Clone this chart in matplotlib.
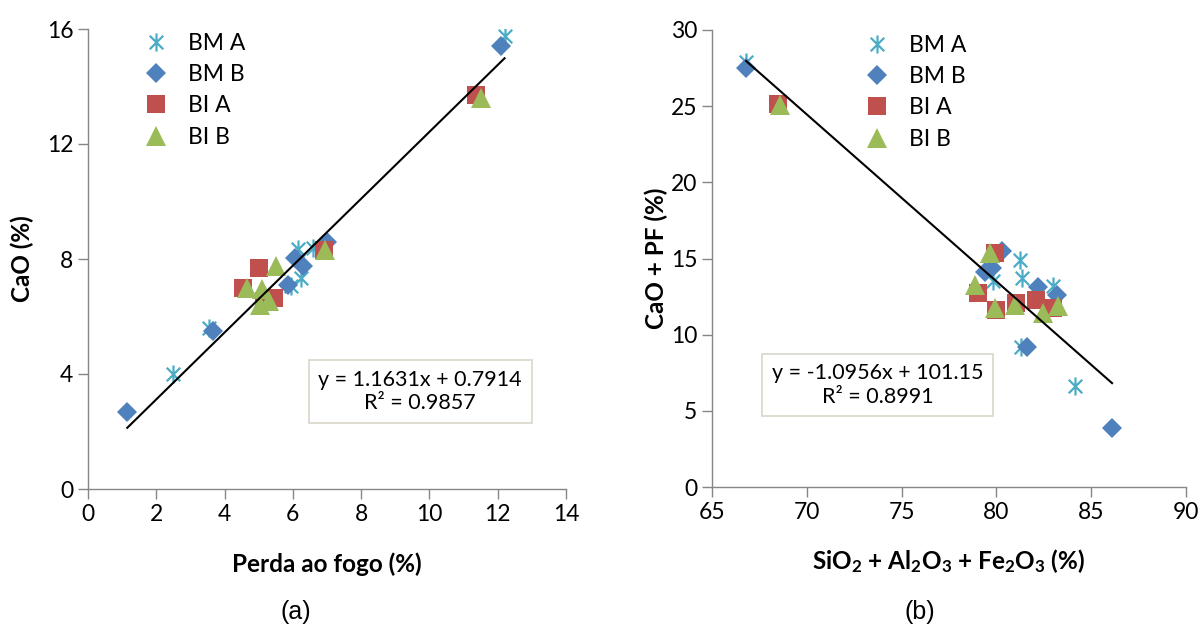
import matplotlib
matplotlib.use("Agg")
import matplotlib.pyplot as plt
import numpy as np
from matplotlib.path import Path

# ---------------- data (a) ----------------
a_bma_x = [12.2, 2.5, 3.55, 5.95, 6.25, 6.15, 6.6]
a_bma_y = [15.75, 4.0, 5.6, 7.05, 7.35, 8.35, 8.4]
a_bmb_x = [12.1, 1.15, 3.65, 6.05, 6.3, 5.85, 7.0]
a_bmb_y = [15.4, 2.68, 5.5, 8.03, 7.75, 7.1, 8.6]
a_bia_x = [11.35, 5.0, 4.55, 5.45, 5.15, 6.9]
a_bia_y = [13.7, 7.7, 7.0, 6.65, 6.55, 8.3]
a_bib_x = [11.5, 5.5, 4.65, 5.1, 5.05, 5.3, 6.95]
a_bib_y = [13.6, 7.75, 7.0, 6.95, 6.4, 6.55, 8.3]
a_slope, a_icpt = 1.1631, 0.7914

# ---------------- data (b) ----------------
b_bma_x = [66.8, 84.15, 81.3, 81.25, 81.35, 83.0, 79.8]
b_bma_y = [27.9, 6.6, 9.2, 14.9, 13.7, 13.2, 13.5]
b_bmb_x = [66.8, 86.1, 81.6, 80.3, 79.4, 82.2, 83.2, 79.75]
b_bmb_y = [27.5, 3.85, 9.2, 15.5, 14.1, 13.1, 12.6, 14.4]
b_bia_x = [68.5, 79.95, 79.05, 80.0, 81.05, 82.1, 83.0]
b_bia_y = [25.15, 15.35, 12.75, 11.6, 12.05, 12.3, 11.75]
b_bib_x = [68.6, 79.65, 78.85, 79.95, 81.0, 82.45, 83.25]
b_bib_y = [25.1, 15.35, 13.25, 11.75, 11.95, 11.4, 11.85]
b_slope, b_icpt = -1.0956, 101.15

series_names = ["BM A", "BM B", "BI A", "BI B"]

# ---------------- style ----------------
FONT = "Lato"
plt.rcParams["font.family"] = [FONT, "DejaVu Sans"]
plt.rcParams["mathtext.fontset"] = "custom"
plt.rcParams["mathtext.rm"] = FONT + ":bold"
plt.rcParams["mathtext.bf"] = FONT + ":bold"
plt.rcParams["mathtext.it"] = FONT + ":bold"

C_BMA = "#4bacc6"
C_BMB = "#4f81bd"
C_BIA = "#c0504d"
C_BIB = "#9bbb59"
AXC = "#868686"
TICK_FS = 16.5
LAB_FS = 17.5
LEG_FS = 16.5
ANN_FS = 15.5

star_path = Path(
    [(0, -1), (0, 1), (-0.75, -0.75), (0.75, 0.75), (-0.75, 0.75), (0.75, -0.75)],
    [Path.MOVETO, Path.LINETO, Path.MOVETO, Path.LINETO, Path.MOVETO, Path.LINETO],
)

fig = plt.figure(figsize=(12.02, 6.30), dpi=100)
ax1 = fig.add_axes([88 / 1202, 1 - 489 / 630, (566 - 88) / 1202, (489 - 29) / 630])
ax2 = fig.add_axes([712 / 1202, 1 - 487 / 630, (1186 - 712) / 1202, (487 - 30) / 630])

styles = [
    dict(marker=star_path, color=C_BMA, markersize=13, markeredgewidth=1.6, markerfacecolor="none"),
    dict(marker="D", color=C_BMB, markersize=10.5, markeredgewidth=0),
    dict(marker="s", color=C_BIA, markersize=13.5, markeredgewidth=0),
    dict(marker="^", color=C_BIB, markersize=15, markeredgewidth=0),
]


def draw(ax, data, slope, icpt):
    for (xs, ys), name, st in zip(data, series_names, styles):
        ax.plot(xs, ys, linestyle="none", label=name, **st)
    allx = np.concatenate([np.asarray(d[0]) for d in data])
    xl = np.array([allx.min(), allx.max()])
    ax.plot(xl, slope * xl + icpt, color="black", linewidth=1.5, zorder=5)
    for s in ["top", "right"]:
        ax.spines[s].set_visible(False)
    for s in ["left", "bottom"]:
        ax.spines[s].set_color(AXC)
        ax.spines[s].set_linewidth(1.0)
    ax.tick_params(axis="both", colors=AXC, length=7, width=1.0, direction="out",
                   labelcolor="black", labelsize=TICK_FS)


draw(ax1, [(a_bma_x, a_bma_y), (a_bmb_x, a_bmb_y), (a_bia_x, a_bia_y), (a_bib_x, a_bib_y)],
     a_slope, a_icpt)
ax1.set_xlim(0, 14)
ax1.set_ylim(0, 16)
ax1.set_xticks(np.arange(0, 15, 2))
ax1.set_yticks(np.arange(0, 17, 4))
ax1.set_xlabel("Perda ao fogo (%)", fontsize=LAB_FS, fontweight="bold", labelpad=20)
ax1.set_ylabel("CaO (%)", fontsize=LAB_FS, fontweight="bold", labelpad=9)
ax1.legend(loc="upper left", bbox_to_anchor=(0.085, 1.022), frameon=False, fontsize=LEG_FS,
           handletextpad=0.8, labelspacing=0.45, borderaxespad=0.2, handlelength=1.2)
ax1.text(0.695, 0.212, "y = 1.1631x + 0.7914\nR² = 0.9857", transform=ax1.transAxes,
         ha="center", va="center", fontsize=ANN_FS, linespacing=1.2,
         bbox=dict(boxstyle="square,pad=0.45", facecolor="white", edgecolor="#d9d5c9", linewidth=1.2))

draw(ax2, [(b_bma_x, b_bma_y), (b_bmb_x, b_bmb_y), (b_bia_x, b_bia_y), (b_bib_x, b_bib_y)],
     b_slope, b_icpt)
ax2.set_xlim(65, 90)
ax2.set_ylim(0, 30)
ax2.set_xticks(np.arange(65, 91, 5))
ax2.set_yticks(np.arange(0, 31, 5))
ax2.set_xlabel(r"SiO$_2$ + Al$_2$O$_3$ + Fe$_2$O$_3$ (%)", fontsize=LAB_FS, fontweight="bold", labelpad=18)
ax2.set_ylabel("CaO + PF (%)", fontsize=LAB_FS, fontweight="bold", labelpad=2)
ax2.legend(loc="upper left", bbox_to_anchor=(0.29, 1.02), frameon=False, fontsize=LEG_FS,
           handletextpad=0.8, labelspacing=0.45, borderaxespad=0.2, handlelength=1.2)
ax2.text(0.35, 0.223, "y = -1.0956x + 101.15\nR² = 0.8991", transform=ax2.transAxes,
         ha="center", va="center", fontsize=ANN_FS, linespacing=1.2,
         bbox=dict(boxstyle="square,pad=0.45", facecolor="white", edgecolor="#d9d5c9", linewidth=1.2))

fig.text(296 / 1202, 1 - 612 / 630, "(a)", ha="center", va="center", fontsize=18,
         family=["Liberation Sans", "DejaVu Sans"])
fig.text(920 / 1202, 1 - 612 / 630, "(b)", ha="center", va="center", fontsize=18,
         family=["Liberation Sans", "DejaVu Sans"])

fig.savefig("out.png", dpi=100)
